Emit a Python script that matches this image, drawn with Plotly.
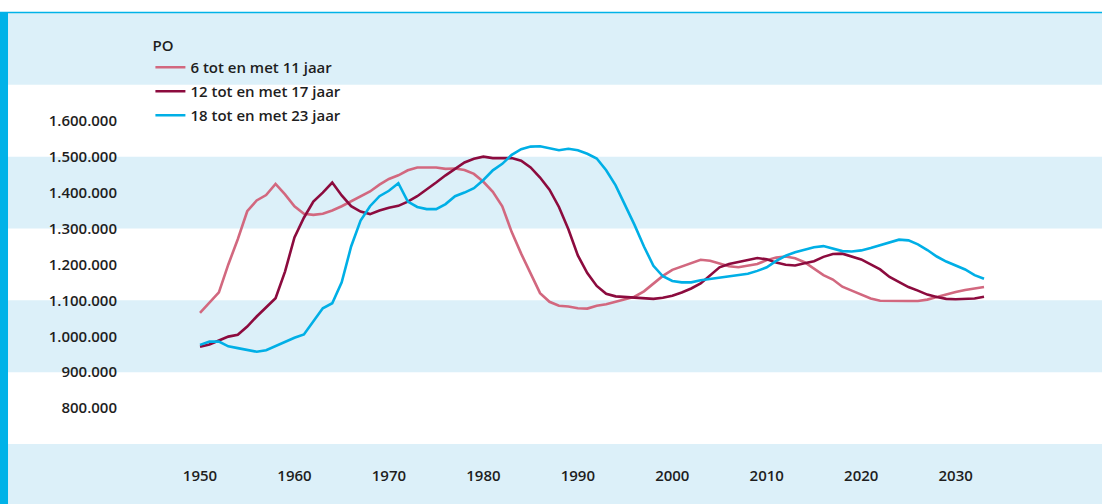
import plotly.graph_objects as go

years = list(range(1950, 2034))

po_6_11 = [1065, 1095, 1122, 1200, 1270, 1348, 1378, 1393, 1424, 1395,
           1362, 1341, 1338, 1341, 1350, 1362, 1375, 1388, 1403, 1422,
           1438, 1448, 1462, 1470, 1470, 1470, 1466, 1467, 1463, 1452,
           1430, 1402, 1362, 1290, 1230, 1175, 1120, 1096, 1085, 1083,
           1078, 1077, 1085, 1089, 1096, 1102, 1110, 1125, 1146, 1168,
           1185, 1195, 1205, 1213, 1210, 1202, 1195, 1192, 1196, 1201,
           1212, 1219, 1222, 1217, 1206, 1188, 1170, 1158, 1138, 1127,
           1116, 1105, 1099, 1098, 1098, 1098, 1098, 1102, 1109, 1117,
           1123, 1129, 1133, 1137]

po_12_17 = [971, 977, 988, 999, 1004, 1027, 1055, 1082, 1106, 1180,
            1275, 1330, 1375, 1400, 1428, 1392, 1362, 1347, 1340, 1350,
            1358, 1363, 1375, 1390, 1408, 1428, 1448, 1467, 1484, 1494,
            1500, 1496, 1495, 1496, 1489, 1470, 1442, 1408, 1360, 1298,
            1225, 1176, 1140, 1118, 1111, 1109, 1106, 1104, 1104, 1107,
            1113, 1122, 1133, 1147, 1170, 1192, 1201, 1207, 1213, 1218,
            1214, 1205, 1199, 1197, 1203, 1209, 1221, 1229, 1230, 1223,
            1214, 1200, 1186, 1165, 1150, 1137, 1127, 1116, 1109, 1104,
            1103, 1103, 1105, 1110]

po_18_23 = [976, 985, 985, 972, 967, 962, 957, 961, 973, 986,
            996, 1005, 1040, 1078, 1092, 1150, 1250, 1322, 1362, 1390,
            1405, 1426, 1375, 1360, 1354, 1354, 1368, 1390, 1400, 1412,
            1435, 1462, 1480, 1505, 1521, 1528, 1529, 1524, 1518, 1522,
            1518, 1508, 1495, 1462, 1420, 1365, 1310, 1250, 1196, 1167,
            1154, 1150, 1150, 1156, 1160, 1164, 1168, 1172, 1174, 1182,
            1192, 1210, 1224, 1234, 1240, 1248, 1251, 1244, 1237, 1236,
            1239, 1246, 1254, 1263, 1269, 1267, 1256, 1240, 1222, 1208,
            1196, 1186, 1170, 1160]

series_names = ["6 tot en met 11 jaar", "12 tot en met 17 jaar", "18 tot en met 23 jaar"]
series_values = [po_6_11, po_12_17, po_18_23]
series_colors = ["#d2687f", "#8c0b3e", "#00afe6"]

x_ticks = [1950, 1960, 1970, 1980, 1990, 2000, 2010, 2020, 2030]
y_ticks = [800000, 900000, 1000000, 1100000, 1200000, 1300000, 1400000, 1500000, 1600000]

Y_MIN, Y_MAX = 700000, 1900000
BAND = "#dcf0f9"
ACCENT = "#00b2e8"
FONT = "Open Sans"

fig = go.Figure()
for i, (name, vals, col) in enumerate(zip(series_names, series_values, series_colors)):
    fig.add_trace(go.Scatter(
        x=years, y=[v * 1000 for v in vals], mode="lines", name=name,
        legendgroup=f"g{i}",
        line=dict(color=col, width=2.6), hoverinfo="skip"))

def py(v):
    return (v - Y_MIN) / (Y_MAX - Y_MIN)

shapes = []
for lo, hi in [(1700000, 1900000), (1300000, 1500000), (900000, 1100000), (500000, 700000)]:
    shapes.append(dict(type="rect", xref="paper", yref="paper", x0=-0.1255, x1=1.05,
                       y0=py(lo), y1=py(hi), fillcolor=BAND, line=dict(width=0), layer="below"))
shapes.append(dict(type="line", xref="paper", yref="paper", x0=-0.1255, x1=1.05,
                   y0=py(Y_MAX) + 0.001, y1=py(Y_MAX) + 0.001, line=dict(color=ACCENT, width=1.5), layer="below"))
shapes.append(dict(type="rect", xref="paper", yref="paper", x0=-0.14, x1=-0.1255,
                   y0=py(500000), y1=py(Y_MAX) + 0.003, fillcolor=ACCENT, line=dict(width=0), layer="below"))

fig.update_layout(
    width=1102, height=504,
    margin=dict(l=130, r=0, t=13, b=60, pad=0),
    paper_bgcolor="white", plot_bgcolor="rgba(0,0,0,0)",
    separators=",.",
    font=dict(family=FONT, size=15, color="#1e1e1e", weight=600),
    shapes=shapes,
    showlegend=True,
    legend=dict(title=dict(text="PO", font=dict(family=FONT, size=15, weight=600)),
                x=0.021, xanchor="left", y=0.957, yanchor="top",
                bgcolor="rgba(0,0,0,0)", borderwidth=0,
                traceorder="grouped", tracegroupgap=1.5,
                font=dict(family=FONT, size=15, weight=600)),
    xaxis=dict(range=[1942.59, 2045.49], showgrid=False, zeroline=False, showline=False,
               tickvals=x_ticks, ticks="", ticklabelstandoff=21, fixedrange=True),
    yaxis=dict(range=[Y_MIN, Y_MAX], showgrid=False, zeroline=False, showline=False,
               tickvals=y_ticks, tickformat=",d", ticks="", ticklabelstandoff=12, fixedrange=True),
)

fig.write_html("out.html", config={"displayModeBar": False},
               post_script="document.body.style.margin='0px';")
